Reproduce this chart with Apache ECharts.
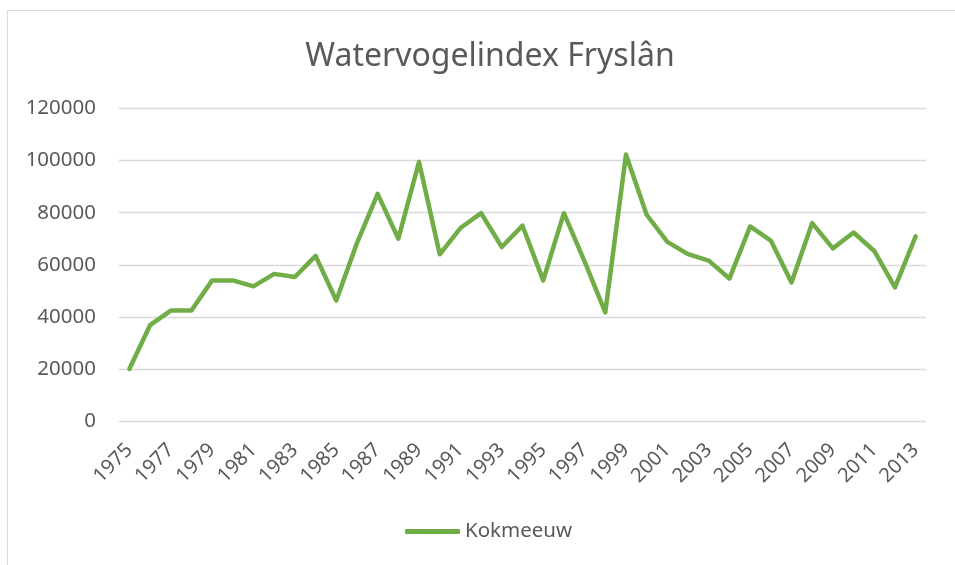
<!DOCTYPE html>
<html>
<head>
<meta charset="utf-8">
<title>Watervogelindex Fryslân</title>
<script src="https://cdn.jsdelivr.net/npm/echarts@6/dist/echarts.min.js"></script>
<style>
  html, body { margin: 0; padding: 0; background: #fff; }
  #chart { width: 955px; height: 565px; }
</style>
</head>
<body>
<div id="chart"></div>
<script>
const years = [];
for (let y = 1975; y <= 2013; y++) years.push(String(y));

// Kokmeeuw counts
const kokmeeuw = [
  20000, 36800, 42400, 42400, 54000, 54000, 51700, 56500, 55300, 63400,
  46300, 68300, 87200, 70000, 99500, 64000, 74100, 79800, 66800, 75000,
  54000, 79800, 61300, 41700, 102300, 79200, 68800, 64100, 61600, 54700,
  74700, 69300, 53200, 76000, 66300, 72400, 65300, 51300, 70900
];

const yTicks = { min: 0, max: 120000, interval: 20000 };

const textColor = '#595959';
const fontFamily = '"Noto Sans", sans-serif';

const chart = echarts.init(document.getElementById('chart'));
const option = {
  animation: false,
  textStyle: { fontFamily: fontFamily },
  title: {
    text: 'Watervogelindex Fryslân',
    left: 485,
    textAlign: 'center',
    top: 36,
    textStyle: { fontSize: 32, fontWeight: 'normal', color: textColor, fontFamily: fontFamily }
  },
  graphic: [{
    type: 'rect',
    shape: { x: 7.5, y: 10.5, width: 1000, height: 1000 },
    style: { fill: 'none', stroke: '#d9d9d9', lineWidth: 1 },
    silent: true
  }],
  legend: {
    data: [{ name: 'Kokmeeuw', icon: 'roundRect' }],
    left: 405,
    top: 521,
    padding: 0,
    itemWidth: 55,
    itemHeight: 5,
    itemGap: 5,
    textStyle: { fontSize: 20.5, color: textColor, fontFamily: fontFamily, padding: [0, 0, 0, 0] }
  },
  grid: {
    left: 119,
    right: 29,
    top: 108.5,
    bottom: 144,
    outerBoundsMode: 'none'
  },
  xAxis: {
    type: 'category',
    data: years,
    boundaryGap: true,
    axisLine: { show: false },
    axisTick: { show: false },
    axisLabel: {
      interval: 1,
      rotate: 45,
      margin: 26,
      fontSize: 20,
      color: textColor,
      fontFamily: fontFamily
    }
  },
  yAxis: {
    type: 'value',
    min: yTicks.min,
    max: yTicks.max,
    interval: yTicks.interval,
    axisLine: { show: false },
    axisTick: { show: false },
    axisLabel: {
      margin: 23,
      fontSize: 20.5,
      color: textColor,
      fontFamily: fontFamily,
      formatter: function (v) { return String(v); }
    },
    splitLine: { lineStyle: { color: '#d9d9d9', width: 1.3 } }
  },
  series: [{
    name: 'Kokmeeuw',
    type: 'line',
    data: kokmeeuw,
    symbol: 'none',
    smooth: false,
    lineStyle: { color: '#70ad47', width: 4.5, cap: 'round', join: 'round' },
    itemStyle: { color: '#70ad47' }
  }]
};
chart.setOption(option);
</script>
</body>
</html>
